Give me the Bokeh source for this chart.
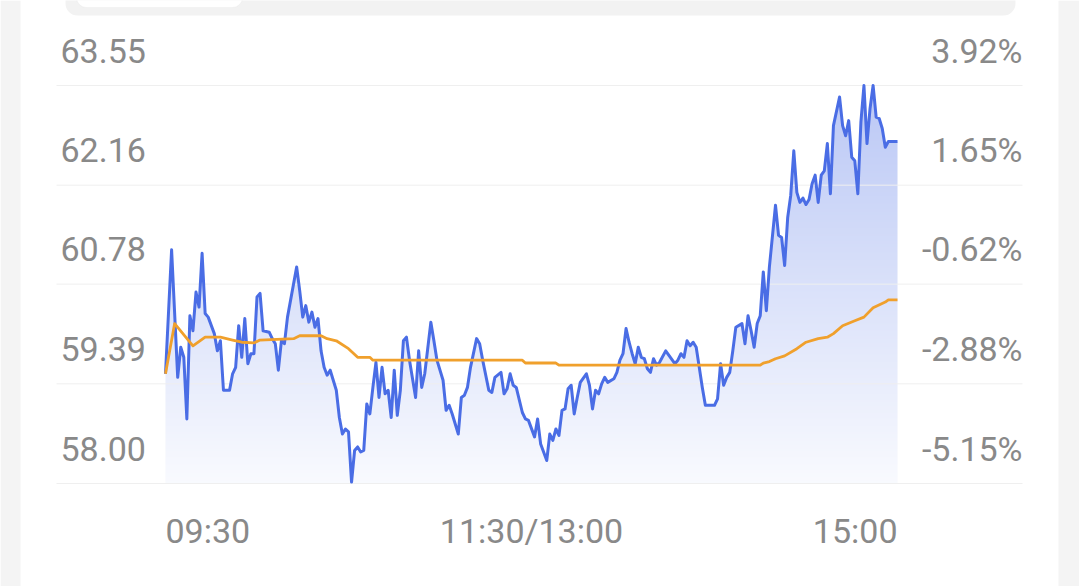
import numpy as np
from bokeh.plotting import figure
from bokeh.models import Range1d, BoxAnnotation
from bokeh.core.properties import value
from bokeh.embed import file_html
from bokeh.resources import INLINE

# ---------------- data ----------------
# minutes since 09:30 (0..240, 120 = 11:30/13:00)
price_t = [0, 2, 4, 5, 6, 7, 8, 9, 10, 11,
           12, 13, 14, 16, 17, 18, 19, 21, 22, 23,
           24, 25, 26, 27, 28, 29, 30, 31, 32, 34,
           35, 36, 37, 38, 39, 40, 43, 44, 45, 46,
           47, 48, 49, 50, 51, 52, 53, 54, 55, 56,
           57, 58, 59, 60, 61, 62, 63, 64, 65, 66,
           67, 68, 69, 70, 71, 72, 73, 74, 75, 76,
           77, 78, 79, 80, 82, 83, 84, 85, 87, 88,
           89, 91, 92, 93, 94, 96, 97, 98, 99, 100,
           102, 103, 104, 106, 107, 108, 110, 111, 112, 113,
           114, 115, 117, 118, 119, 121, 122, 123, 125, 126,
           127, 128, 129, 130, 131, 132, 133, 134, 135, 136,
           138, 139, 140, 141, 142, 143, 144, 145, 147, 148,
           149, 150, 151, 152, 153, 154, 155, 156, 157, 158,
           159, 160, 161, 162, 164, 165, 167, 168, 169, 170,
           171, 172, 173, 174, 175, 176, 177, 180, 181, 182,
           183, 184, 185, 186, 187, 189, 190, 191, 192, 193,
           194, 195, 196, 197, 198, 200, 201, 202, 203, 204,
           205, 206, 207, 208, 209, 210, 211, 212, 213, 214,
           215, 216, 217, 218, 219, 221, 222, 223, 224, 225,
           226, 227, 228, 229, 230, 231, 232, 233, 234, 235,
           236, 237, 240]
price_v = [59.53, 61.26, 59.48, 59.90, 59.76, 58.90, 60.34, 60.13, 60.67, 60.46,
           61.21, 60.37, 60.32, 60.09, 59.85, 59.99, 59.30, 59.30, 59.53, 59.62,
           60.20, 59.76, 60.30, 59.67, 59.81, 59.81, 60.60, 60.65, 60.13, 60.11,
           60.02, 59.95, 59.58, 59.99, 59.95, 60.32, 61.02, 60.69, 60.32, 60.48,
           60.25, 60.39, 60.18, 60.30, 59.85, 59.62, 59.51, 59.58, 59.44, 59.30,
           58.92, 58.69, 58.76, 58.72, 58.02, 58.46, 58.51, 58.44, 58.46, 59.11,
           58.97, 59.34, 59.69, 59.20, 59.62, 59.25, 59.30, 58.92, 59.58, 58.95,
           59.30, 59.99, 60.04, 59.72, 59.20, 59.85, 59.34, 59.53, 60.25, 59.99,
           59.72, 59.44, 59.02, 59.09, 58.97, 58.69, 59.20, 59.23, 59.34, 59.62,
           60.02, 59.95, 59.72, 59.30, 59.27, 59.48, 59.55, 59.25, 59.32, 59.53,
           59.37, 59.34, 58.99, 58.90, 58.88, 58.65, 58.90, 58.55, 58.32, 58.69,
           58.60, 58.76, 58.67, 59.02, 59.04, 59.32, 59.37, 58.97, 59.20, 59.41,
           59.53, 59.37, 59.04, 59.30, 59.25, 59.39, 59.48, 59.41, 59.46, 59.55,
           59.72, 59.81, 60.16, 59.97, 59.81, 59.67, 59.90, 59.76, 59.74, 59.60,
           59.55, 59.74, 59.65, 59.69, 59.85, 59.79, 59.67, 59.72, 59.81, 59.76,
           59.99, 59.92, 59.97, 59.90, 59.62, 59.34, 59.09, 59.09, 59.18, 59.67,
           59.37, 59.48, 59.55, 59.85, 60.18, 60.23, 59.95, 60.34, 60.13, 59.90,
           60.23, 60.34, 60.95, 60.41, 61.02, 61.88, 61.46, 61.43, 61.04, 61.71,
           62.02, 62.64, 62.06, 61.92, 61.98, 61.89, 61.96, 62.18, 62.30, 61.92,
           62.30, 62.36, 62.74, 62.04, 62.99, 63.39, 62.99, 62.85, 63.06, 62.55,
           62.50, 62.04, 63.04, 63.55, 62.74, 63.23, 63.55, 63.11, 63.09, 62.95,
           62.69, 62.77, 62.77]

avg_t = [0, 3, 9, 13, 18, 22, 25, 29, 31, 42,
         44, 51, 53, 56, 60, 63, 67, 68, 117, 118,
         128, 129, 195, 196, 198, 200, 203, 207, 210, 214,
         217, 219, 222, 226, 229, 232, 236, 237, 240]
avg_v = [59.53, 60.23, 59.92, 60.04, 60.04, 60.00, 59.97, 59.96, 60.00, 60.02,
         60.06, 60.06, 60.02, 59.99, 59.88, 59.76, 59.76, 59.72, 59.72, 59.68,
         59.68, 59.65, 59.65, 59.68, 59.70, 59.74, 59.78, 59.88, 59.97, 60.02,
         60.04, 60.09, 60.20, 60.27, 60.32, 60.45, 60.53, 60.56, 60.56]

price_ticks = [63.55, 62.16, 60.78, 59.39, 58.00]
price_labels = ["63.55", "62.16", "60.78", "59.39", "58.00"]
pct_labels = ["3.92%", "1.65%", "-0.62%", "-2.88%", "-5.15%"]
time_ticks = [0, 120, 240]
time_labels = ["09:30", "11:30/13:00", "15:00"]

# ---------------- layout (page pixels) ----------------
W, H = 1079, 586
X0_PX, X1_PX = 165, 897        # time_ticks[0], time_ticks[-1]
YT_PX, YB_PX = 85, 483         # price_ticks[0], price_ticks[-1]
sx = (X1_PX - X0_PX) / (time_ticks[-1] - time_ticks[0])
sy = (YB_PX - YT_PX) / (price_ticks[0] - price_ticks[-1])


def dx(px):
    return time_ticks[0] + (px - X0_PX) / sx


def dy(py):
    return price_ticks[-1] + (YB_PX - py) / sy


BLUE_RGB = (74, 109, 229)
BLUE = "#4a6de5"
ORANGE = "#f0a02c"
TXT = "#898989"
GRAY = "#f4f4f4"
FONT = value("Roboto")

p = figure(width=W, height=H, output_backend="svg", toolbar_location=None,
           x_range=Range1d(dx(0), dx(W)),
           y_range=Range1d(dy(H), dy(0)),
           x_axis_location=None, y_axis_location=None, min_border=0)
p.grid.visible = False
p.outline_line_color = None
p.background_fill_color = "white"
p.border_fill_color = "white"

# page edges and top tab bar
p.quad(left=[dx(0), dx(1058)], right=[dx(20), dx(W)],
       bottom=dy(H), top=dy(0), fill_color=GRAY, line_color=None)
p.add_layout(BoxAnnotation(left=dx(65), right=dx(1015), top=dy(-20), bottom=dy(15),
                           fill_color="#f2f2f2", fill_alpha=1, line_color=None,
                           border_radius=12))
p.add_layout(BoxAnnotation(left=dx(76), right=dx(242), top=dy(-20), bottom=dy(7),
                           fill_color="white", fill_alpha=1, line_color="#e6e6e6",
                           line_width=1, border_radius=10))

# vertical gradient panel (one row per screen pixel), later masked above the line
top_px = YT_PX - 8
rows = YB_PX - top_px
img = np.zeros((rows, 2), dtype=np.uint32)
view = img.view(dtype=np.uint8).reshape((rows, 2, 4))
for r in range(rows):
    py = YB_PX - r - 0.5                      # row 0 is at the bottom
    a = 0.38 - 0.345 * (py - YT_PX) / (YB_PX - YT_PX)
    a = min(max(a, 0.03), 0.40)
    for c in range(3):
        view[r, :, c] = int(round(255 - a * (255 - BLUE_RGB[c])))
    view[r, :, 3] = 255
p.image_rgba(image=[img], x=time_ticks[0], y=price_ticks[-1],
             dw=time_ticks[-1] - time_ticks[0], dh=dy(top_px) - price_ticks[-1])
# white mask above the price line (extended a little past both ends)
mask_x = [dx(X0_PX - 3)] + price_t + [dx(X1_PX + 3)]
mask_y = [price_v[0]] + price_v + [price_v[-1]]
p.varea(x=mask_x, y1=mask_y, y2=dy(top_px - 4), fill_color="white", fill_alpha=1)

# grid lines
p.segment(x0=dx(56), x1=dx(1022), y0=price_ticks, y1=price_ticks,
          line_color="#efefef", line_width=1)

# lines
p.line(price_t, price_v, line_color=BLUE, line_width=3, line_join="round")
p.line(avg_t, avg_v, line_color=ORANGE, line_width=2.8, line_join="round")

# labels
lab_y = [v + 35 / sy for v in price_ticks]
p.text(x=dx(60), y=lab_y, text=price_labels, text_font=FONT, text_font_size="34px",
       text_color=TXT, text_align="left", text_baseline="alphabetic")
p.text(x=dx(1022), y=lab_y, text=pct_labels, text_font=FONT, text_font_size="34px",
       text_color=TXT, text_align="right", text_baseline="alphabetic")
p.text(x=time_ticks, y=dy(530), text=time_labels, text_font=FONT, text_font_size="34px",
       text_color=TXT, text_align=["left", "center", "right"], text_baseline="alphabetic")

open("out.html", "w").write(file_html(p, INLINE))
